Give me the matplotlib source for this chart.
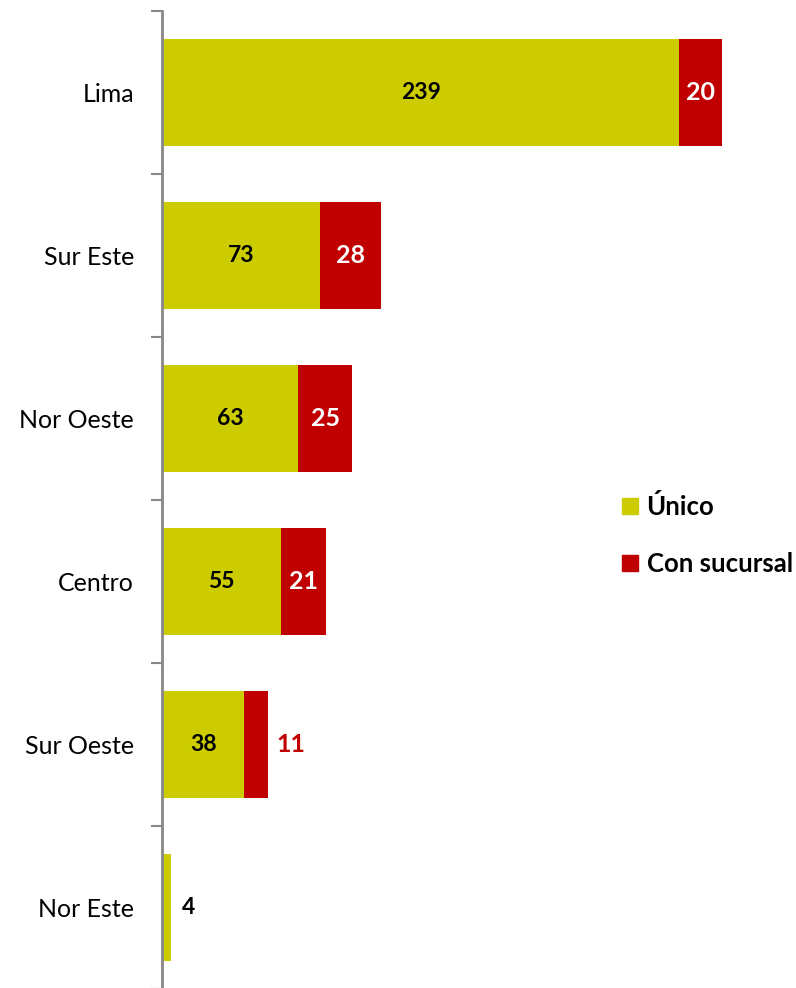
import matplotlib
matplotlib.use("Agg")
import matplotlib.pyplot as plt
from matplotlib.patches import Patch

plt.rcParams['font.family'] = ['Lato', 'DejaVu Sans']

regiones = ['Lima', 'Sur Este', 'Nor Oeste', 'Centro', 'Sur Oeste', 'Nor Este']
unico = [239, 73, 63, 55, 38, 4]
sucursal = [20, 28, 25, 21, 11, 0]

c_unico = '#CCCC00'
c_suc = '#C00000'

fig = plt.figure(figsize=(7.96, 9.88), dpi=100)
ax = fig.add_axes([162/796, -1/988, 1 - 162/796, 978/988])

y = list(range(len(regiones)))
ax.barh(y, unico, height=0.66, color=c_unico, label='Único')
ax.barh(y, sucursal, left=unico, height=0.66, color=c_suc, label='Con sucursal')

for i in y:
    u = unico[i]
    s = sucursal[i]
    if u >= 20:
        ax.text(u / 2, i, str(u), ha='center', va='center', fontsize=16.5,
                fontweight='bold', color='black')
    else:
        ax.text(u + 5, i, str(u), ha='left', va='center', fontsize=16.5,
                fontweight='bold', color='black')
    if s >= 15:
        ax.text(u + s / 2, i, str(s), ha='center', va='center', fontsize=18,
                fontweight='bold', color='white')
    elif s > 0:
        ax.text(u + s + 4, i, str(s), ha='left', va='center', fontsize=18,
                fontweight='bold', color=c_suc)

ax.set_ylim(len(regiones) - 0.5, -0.5)
ax.set_xlim(0, 293)
ax.set_yticks(y)
ax.set_yticklabels(regiones, fontsize=18)
ax.set_yticks([i - 0.5 for i in range(len(regiones) + 1)], minor=True)
ax.tick_params(axis='y', which='major', length=0, pad=20)
ax.tick_params(axis='y', which='minor', length=8, width=1.5, color='#888888')
ax.xaxis.set_visible(False)
for sp in ['top', 'right', 'bottom']:
    ax.spines[sp].set_visible(False)
ax.spines['left'].set_color('#888888')
ax.spines['left'].set_linewidth(2)

handles = [Patch(color=c_unico, label='Único'), Patch(color=c_suc, label='Con sucursal')]
leg = fig.legend(handles=handles, loc='center left', bbox_to_anchor=(599/796, 1 - 535/988),
                 frameon=False, handlelength=0.6, handleheight=0.6, handletextpad=0.35,
                 labelspacing=1.3, prop={'size': 18.5, 'weight': 'bold'})

fig.savefig('out.png', dpi=100)
